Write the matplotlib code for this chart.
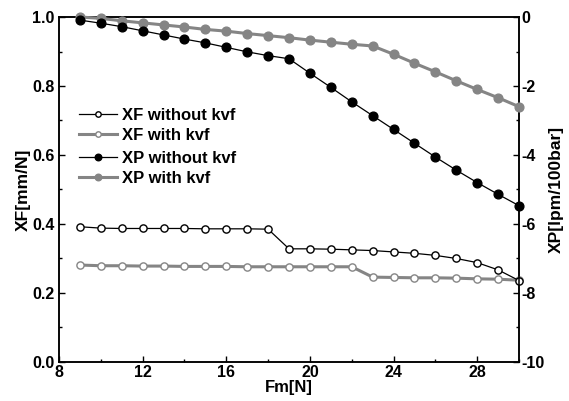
import matplotlib
matplotlib.use("Agg")
import matplotlib.pyplot as plt
from matplotlib.ticker import MultipleLocator

plt.rcParams['font.family'] = ['Liberation Sans', 'DejaVu Sans']
plt.rcParams['font.weight'] = 'bold'
plt.rcParams['axes.unicode_minus'] = False

fm = [9, 10, 11, 12, 13, 14, 15, 16, 17, 18, 19, 20, 21, 22, 23, 24, 25, 26, 27, 28, 29, 30]
xf_without = [0.392, 0.388, 0.387, 0.387, 0.387, 0.387, 0.386, 0.386, 0.386, 0.385, 0.328, 0.328,
              0.327, 0.325, 0.323, 0.319, 0.315, 0.309, 0.300, 0.288, 0.267, 0.236]
xf_with = [0.281, 0.279, 0.279, 0.278, 0.278, 0.277, 0.277, 0.277, 0.276, 0.276, 0.276, 0.276,
           0.276, 0.276, 0.246, 0.245, 0.244, 0.244, 0.243, 0.241, 0.240, 0.237]
xp_without = [-0.09, -0.18, -0.28, -0.40, -0.52, -0.64, -0.75, -0.88, -1.01, -1.12, -1.21, -1.63,
              -2.04, -2.46, -2.86, -3.26, -3.66, -4.06, -4.44, -4.80, -5.14, -5.47]
xp_with = [0.0, -0.04, -0.11, -0.17, -0.23, -0.29, -0.36, -0.41, -0.48, -0.54, -0.60, -0.67,
           -0.73, -0.79, -0.84, -1.08, -1.34, -1.59, -1.85, -2.10, -2.34, -2.60]

gray = '#858585'

fig = plt.figure(figsize=(5.69, 4.01), dpi=100)
ax = fig.add_axes([0.1037, 0.0973, 0.8085, 0.8603])
ax2 = ax.twinx()

l1, = ax.plot(fm, xf_without, '-o', color='black', lw=0.9, ms=5.2, mfc='white', mec='black',
              mew=1.0, label='XF without kvf', clip_on=False, zorder=4)
l2, = ax.plot(fm, xf_with, '-o', color=gray, lw=2.2, ms=5.2, mfc='white', mec=gray,
              mew=1.0, label='XF with kvf', clip_on=False, zorder=3)
l3, = ax2.plot(fm, xp_without, '-o', color='black', lw=0.9, ms=6.3, mfc='black', mec='black',
               label='XP without kvf', clip_on=False, zorder=4)
l4, = ax2.plot(fm, xp_with, '-o', color=gray, lw=2.2, ms=6.3, mfc=gray, mec=gray,
               label='XP with kvf', clip_on=False, zorder=3)

ax.set_xlim(8, 30)
ax.set_ylim(0, 1.0)
ax2.set_ylim(-10, 0)

ax.xaxis.set_major_locator(MultipleLocator(4))
ax.xaxis.set_minor_locator(MultipleLocator(2))
ax.yaxis.set_major_locator(MultipleLocator(0.2))
ax.yaxis.set_minor_locator(MultipleLocator(0.1))
ax2.yaxis.set_major_locator(MultipleLocator(2))
ax2.yaxis.set_minor_locator(MultipleLocator(1))

ax.yaxis.set_major_formatter(matplotlib.ticker.FormatStrFormatter('%.1f'))
ax2.yaxis.set_major_formatter(matplotlib.ticker.FuncFormatter(lambda v, p: '%d' % round(v)))

for a in (ax, ax2):
    for s in a.spines.values():
        s.set_linewidth(1.1)
ax.tick_params(axis='x', which='both', direction='in', labelsize=11.5, pad=2, top=False)
ax.tick_params(axis='y', which='both', direction='in', labelsize=11.5, pad=3)
ax.tick_params(which='major', length=4, width=1.0)
ax.tick_params(which='minor', length=2.5, width=1.0)
ax2.tick_params(axis='y', which='both', direction='in', labelsize=11.5, pad=1.5)
ax2.tick_params(which='major', length=4, width=1.0)
ax2.tick_params(which='minor', length=2.5, width=1.0)
for lab in ax.get_xticklabels() + ax.get_yticklabels() + ax2.get_yticklabels():
    lab.set_fontweight('bold')

ax.set_xlabel('Fm[N]', fontsize=12, fontweight='bold', labelpad=0)
ax.set_ylabel('XF[mm/N]', fontsize=12.5, fontweight='bold', labelpad=1)
ax2.set_ylabel('XP[lpm/100bar]', fontsize=12.5, fontweight='bold', labelpad=3)

leg1 = ax2.legend(handles=[l1, l2], loc='upper left', bbox_to_anchor=(0.028, 0.755),
                  frameon=False, fontsize=12, handlelength=2.3, handletextpad=0.3,
                  labelspacing=0.28, markerscale=0.75, borderaxespad=0)
ax2.add_artist(leg1)
leg2 = ax2.legend(handles=[l3, l4], loc='upper left', bbox_to_anchor=(0.028, 0.63),
                  frameon=False, fontsize=12, handlelength=2.3, handletextpad=0.3,
                  labelspacing=0.28, markerscale=0.75, borderaxespad=0)
for lg in (leg1, leg2):
    for t in lg.get_texts():
        t.set_fontweight('bold')

fig.savefig('out.png', dpi=100)
